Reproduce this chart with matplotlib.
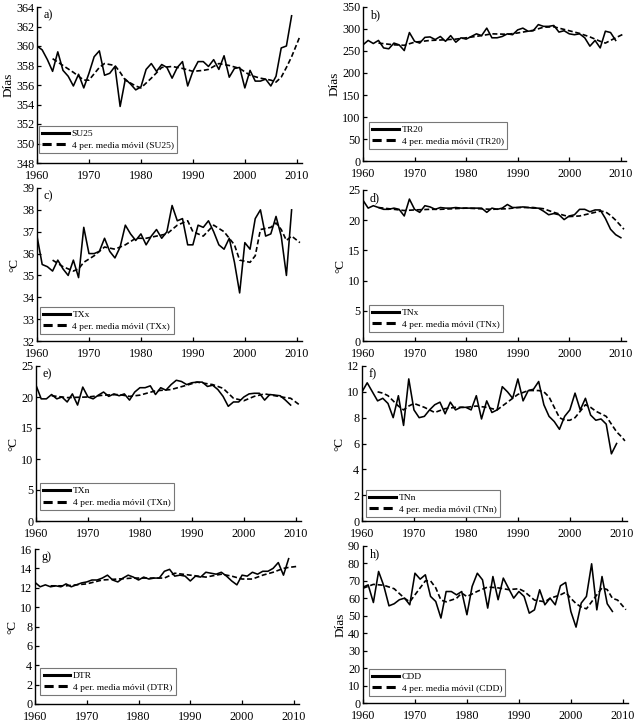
import numpy as np
import matplotlib
matplotlib.use("Agg")
import matplotlib.pyplot as plt

plt.rcParams['font.family'] = ['Liberation Serif', 'DejaVu Serif']

# --- Datos (índices 1960-2010) ---
su25 = [360.0, 359.6, 358.6, 357.4, 359.4, 357.5, 356.9, 355.9, 357.1, 355.7,
        357.2, 358.9, 359.5, 357.0, 357.2, 357.9, 353.8, 356.6, 356.1, 355.5,
        355.8, 357.6, 358.2, 357.4, 358.1, 357.8, 356.7, 357.8, 358.4, 355.9,
        357.4, 358.4, 358.4, 357.9, 358.6, 357.6, 359.0, 356.8, 357.7, 357.8,
        355.7, 357.5, 356.4, 356.4, 356.6, 355.9, 356.9, 359.8, 360.0, 363.1]
ma_years_su25 = [1963, 1965, 1967, 1969, 1970, 1972, 1973, 1975, 1976, 1977, 1979, 1980,
                 1982, 1984, 1986, 1988, 1990, 1992, 1993, 1995, 1997, 1999, 2001, 2003,
                 2005, 2006, 2007, 2008, 2009, 2010, 2010.6]
ma_su25 = [358.7, 358.0, 357.3, 356.5, 356.5, 357.8, 358.2, 358.0, 357.3, 356.5, 355.9, 355.7,
           356.7, 357.8, 357.9, 357.7, 357.4, 357.5, 357.6, 358.2, 358.0, 357.7, 357.0, 356.7,
           356.5, 356.3, 356.8, 357.8, 358.9, 360.2, 361.0]

tr20 = [264, 274, 267, 274, 257, 255, 268, 264, 251, 292,
        272, 268, 281, 282, 276, 283, 272, 285, 270, 280,
        277, 283, 289, 285, 302, 280, 280, 283, 289, 287,
        298, 302, 295, 296, 310, 306, 306, 308, 293, 296,
        289, 287, 289, 280, 261, 274, 257, 295, 292, 274]
ma_years_tr20 = [1963, 1966, 1968, 1970, 1973, 1975, 1978, 1980, 1983, 1985, 1988, 1990,
                 1993, 1995, 1997, 1998, 2000, 2002, 2004, 2006, 2007, 2008, 2009, 2010.6]
ma_tr20 = [268, 264, 263, 270, 274, 275, 277, 280, 285, 289, 288, 291,
           297, 304, 305, 302, 296, 290, 282, 272, 268, 274, 280, 289]

txx = [36.8, 35.5, 35.4, 35.2, 35.7, 35.3, 35.0, 35.7, 34.9, 37.2,
       36.0, 36.0, 36.1, 36.7, 36.1, 35.8, 36.3, 37.3, 36.9, 36.6,
       36.9, 36.4, 36.8, 37.1, 36.7, 37.0, 38.2, 37.5, 37.6, 36.4,
       36.4, 37.3, 37.2, 37.5, 37.0, 36.4, 36.2, 36.7, 35.6, 34.2,
       36.5, 36.2, 37.6, 38.0, 36.8, 36.9, 37.7, 36.8, 35.0, 38.0]
ma_years_txx = [1963, 1965, 1967, 1968, 1969, 1971, 1973, 1975, 1977, 1979, 1981, 1983,
                1985, 1987, 1989, 1990, 1992, 1994, 1996, 1998, 1999, 2001, 2002, 2003,
                2005, 2006, 2007, 2008, 2009, 2010.6]
ma_txx = [35.7, 35.4, 35.2, 35.3, 35.6, 35.9, 36.3, 36.2, 36.4, 36.7, 36.7, 36.8,
          36.9, 37.3, 37.5, 37.0, 36.8, 37.3, 37.0, 36.4, 35.7, 35.6, 35.9, 37.1,
          37.2, 37.4, 37.1, 36.6, 36.8, 36.5]

tnx = [23.3, 22.0, 22.4, 22.1, 21.8, 21.8, 22.0, 21.8, 20.7, 23.5,
       21.8, 21.3, 22.4, 22.2, 21.8, 22.1, 22.0, 22.0, 22.1, 22.0,
       22.0, 22.0, 22.0, 22.0, 21.3, 22.0, 21.8, 22.0, 22.6, 22.1,
       22.1, 22.2, 22.1, 22.0, 22.0, 21.5, 20.9, 21.1, 20.9, 20.1,
       20.7, 20.9, 21.8, 21.8, 21.4, 21.7, 21.7, 20.3, 18.5, 17.6, 17.1]
ma_years_tnx = [1963, 1965, 1968, 1970, 1973, 1975, 1980, 1985, 1988, 1990, 1993,
                1995, 1997, 1999, 2000, 2002, 2004, 2006, 2007, 2008, 2009, 2010.6]
ma_tnx = [22.1, 21.9, 21.6, 21.7, 21.8, 21.8, 22.0, 21.8, 21.9, 22.1, 22.1,
          21.9, 21.3, 20.8, 20.6, 20.7, 21.1, 21.5, 21.4, 20.8, 20.0, 18.5]

txn = [21.9, 19.7, 19.7, 20.4, 19.7, 20.0, 19.2, 20.5, 18.7, 21.6,
       20.0, 19.7, 20.3, 20.8, 20.1, 20.5, 20.2, 20.5, 19.5, 20.8,
       21.5, 21.5, 21.8, 20.4, 21.5, 21.1, 22.0, 22.7, 22.5, 22.0,
       22.3, 22.4, 22.4, 21.7, 21.9, 21.2, 20.1, 18.5, 19.2, 19.2,
       20.0, 20.5, 20.6, 20.6, 19.5, 20.4, 20.3, 20.2, 19.5, 18.7]
ma_years_txn = [1963, 1966, 1970, 1973, 1976, 1978, 1980, 1983, 1986, 1989, 1991,
                1994, 1996, 1998, 2000, 2002, 2004, 2006, 2008, 2009, 2010.6]
ma_txn = [20.2, 19.9, 20.0, 20.3, 20.4, 20.1, 20.3, 21.0, 21.2, 21.9, 22.4,
          22.0, 21.4, 19.8, 19.4, 20.1, 20.5, 20.2, 19.9, 19.8, 18.8]

tnn = [10.0, 10.7, 10.0, 9.3, 9.5, 9.1, 8.0, 9.7, 7.4, 11.0,
       8.6, 8.0, 8.1, 8.6, 9.0, 9.2, 8.3, 9.2, 8.6, 8.8,
       8.8, 8.6, 9.7, 7.9, 9.3, 8.4, 8.6, 10.4, 10.0, 9.5,
       11.0, 9.3, 10.1, 10.2, 10.8, 9.0, 8.1, 7.7, 7.1, 8.1,
       8.6, 9.9, 8.6, 9.5, 8.2, 7.8, 7.9, 7.5, 5.2, 6.0]
ma_years_tnn = [1963, 1964, 1965, 1966, 1967, 1968, 1969, 1970, 1972, 1974, 1976, 1978,
                1980, 1982, 1984, 1986, 1988, 1990, 1992, 1994, 1995, 1996, 1997, 1998,
                1999, 2000, 2001, 2002, 2003, 2004, 2005, 2006, 2007, 2008, 2009, 2010, 2010.6]
ma_tnn = [10.0, 9.9, 9.7, 9.3, 8.9, 8.6, 8.9, 9.1, 8.8, 8.4, 8.7, 8.8,
          8.8, 8.9, 8.8, 8.6, 9.2, 9.8, 10.1, 10.1, 10.0, 9.6, 8.8, 8.0,
          7.8, 7.8, 8.0, 8.5, 9.0, 8.8, 8.5, 8.3, 8.1, 7.5, 6.9, 6.5, 6.2]

dtr = [12.55, 12.1, 12.3, 12.1, 12.2, 12.1, 12.4, 12.1, 12.3, 12.5,
       12.6, 12.8, 12.8, 13.0, 13.3, 12.8, 12.6, 13.0, 13.3, 13.1,
       12.8, 13.1, 12.9, 13.0, 13.0, 13.7, 13.9, 13.2, 13.3, 13.2,
       12.7, 13.2, 13.1, 13.6, 13.5, 13.4, 13.6, 13.2, 12.7, 12.3,
       13.3, 13.2, 13.6, 13.4, 13.7, 13.7, 14.0, 14.6, 13.3, 15.0]
ma_years_dtr = [1963, 1966, 1970, 1973, 1976, 1979, 1982, 1985, 1987, 1990,
                1993, 1996, 1998, 2000, 2002, 2004, 2006, 2008, 2009, 2010.6]
ma_dtr = [12.2, 12.2, 12.4, 12.8, 12.9, 13.0, 13.0, 13.0, 13.5, 13.3,
          13.1, 13.4, 13.2, 12.9, 12.9, 13.3, 13.6, 14.0, 14.1, 14.2]

cdd = [66.4, 67.7, 57.6, 75.4, 67.2, 55.7, 56.9, 59.2, 60.1, 56.3,
       74.4, 71.0, 73.5, 61.1, 58.2, 48.7, 63.9, 63.9, 62.0, 63.9,
       50.6, 66.8, 74.4, 70.6, 54.4, 72.5, 59.2, 71.6, 65.8, 60.1,
       63.9, 61.1, 51.5, 53.4, 64.9, 56.3, 60.1, 56.3, 67.2, 69.1,
       52.5, 43.5, 57.3, 61.1, 79.8, 53.4, 72.5, 56.9, 52.5]
ma_years_cdd = [1960, 1962, 1964, 1966, 1968, 1969, 1970, 1971, 1972, 1973, 1974, 1975,
                1976, 1978, 1979, 1980, 1982, 1984, 1986, 1988, 1990, 1991, 1993, 1995,
                1996, 1998, 1999, 2000, 2001, 2002, 2003, 2004, 2005, 2006, 2007, 2008,
                2009, 2010.6]
ma_cdd = [65.8, 68.0, 67.5, 65.5, 60.0, 58.0, 62.0, 66.0, 70.0, 70.0, 66.0, 59.0,
          58.0, 60.0, 63.0, 61.0, 64.0, 66.5, 66.0, 65.0, 65.5, 64.0, 59.0, 58.0,
          60.0, 62.0, 63.5, 60.0, 57.0, 55.0, 54.0, 58.0, 62.0, 66.0, 65.0, 60.0,
          59.0, 53.5]

W, H = 642, 724
fig = plt.figure(figsize=(W / 100, H / 100), dpi=100)


def panel(rect_px, letter, name, values, ma_years, ma_values, ylim, ystep, ylabel, leg_xy):
    left, top, right, bottom = rect_px
    ax = fig.add_axes([left / W, 1 - bottom / H, (right - left) / W, (bottom - top) / H])
    years = np.arange(1960, 1960 + len(values))
    ax.plot(years, values, color='black', lw=1.15, label=name)
    ax.plot(ma_years, ma_values, color='black', lw=1.2, linestyle=(0, (3, 1.6)),
            label='4 per. media móvil (%s)' % name)

    ax.set_xlim(1960, 2011)
    ax.set_ylim(*ylim)
    ax.set_xticks(range(1960, 2011, 10))
    ax.set_yticks(np.arange(ylim[0], ylim[1] + ystep / 2, ystep))
    for s in ['top', 'right']:
        ax.spines[s].set_visible(False)
    for s in ['left', 'bottom']:
        ax.spines[s].set_linewidth(1.0)
    ax.tick_params(direction='in', length=3, width=0.9, labelsize=8.7)
    ax.tick_params(axis='x', pad=5)
    ax.tick_params(axis='y', pad=2)
    ax.set_ylabel(ylabel, fontsize=9.5, labelpad=1)
    ax.text(0.025, 0.985, letter, transform=ax.transAxes, va='top', ha='left', fontsize=8.7)

    leg = ax.legend(loc='lower left', bbox_to_anchor=leg_xy, borderaxespad=0, fontsize=6.8,
                    fancybox=False, edgecolor='#555555', handlelength=2.8,
                    handletextpad=0.3, borderpad=0.35, labelspacing=0.3)
    leg.get_frame().set_linewidth(0.8)
    for h in leg.get_lines():
        h.set_linewidth(2.2)
    return ax


panel((37, 7, 302, 163), 'a)', 'SU25', su25, ma_years_su25, ma_su25, (348, 364), 2, 'Días', (0.008, 0.064))
panel((363, 7, 626, 161), 'b)', 'TR20', tr20, ma_years_tr20, ma_tr20, (0, 350), 50, 'Días', (0.023, 0.078))
panel((37, 188, 302, 341), 'c)', 'TXx', txx, ma_years_txx, ma_txx, (32, 39), 1, '°C', (0.011, 0.046))
panel((363, 190, 626, 341), 'd)', 'TNx', tnx, ma_years_tnx, ma_tnx, (0, 25), 5, '°C', (0.023, 0.06))
panel((36, 366, 301, 521), 'e)', 'TXn', txn, ma_years_txn, ma_txn, (0, 25), 5, '°C', (0.015, 0.07))
panel((362, 366, 627, 521), 'f)', 'TNn', tnn, ma_years_tnn, ma_tnn, (0, 12), 2, '°C', (0.015, 0.026))
panel((35, 549, 299, 704), 'g)', 'DTR', dtr, ma_years_dtr, ma_dtr, (0, 16), 2, '°C', (0.02, 0.058))
panel((363, 546, 628, 703), 'h)', 'CDD', cdd, ma_years_cdd, ma_cdd, (0, 90), 10, 'Días', (0.023, 0.045))

fig.savefig('out.png', dpi=100)
